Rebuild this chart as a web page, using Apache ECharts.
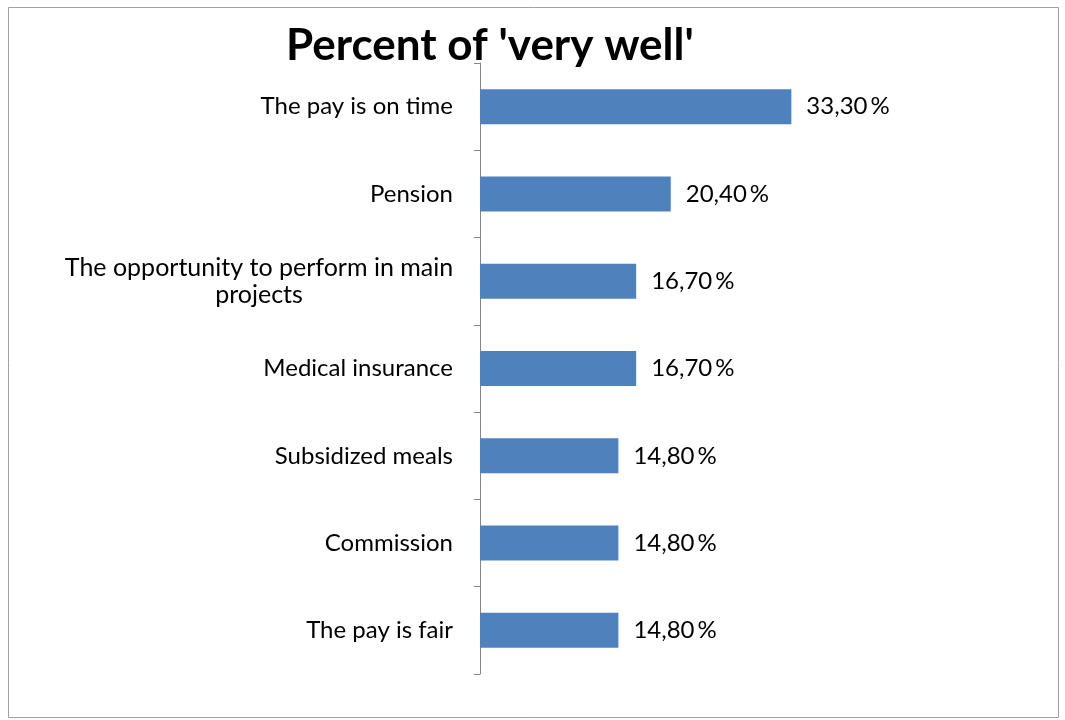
<!DOCTYPE html>
<html>
<head>
<meta charset="utf-8">
<script src="https://cdn.jsdelivr.net/npm/echarts@6/dist/echarts.min.js"></script>
<style>
  html, body { margin: 0; padding: 0; background: #fff; }
  #chart { width: 1065px; height: 720px; }
</style>
</head>
<body>
<div id="chart"></div>
<script>
// Items, listed top to bottom
const categories = [
  'The pay is on time',
  'Pension',
  'The opportunity to perform in main\nprojects',
  'Medical insurance',
  'Subsidized meals',
  'Commission',
  'The pay is fair'
];
// Share of answers "very well", in percent
const percentVeryWell = [33.3, 20.4, 16.7, 16.7, 14.8, 14.8, 14.8];

const FONT = 'Lato, "Open Sans", sans-serif';
const chart = echarts.init(document.getElementById('chart'), null, { renderer: 'canvas' });

// Wrapped category names get each line centred inside a fixed-width box
function categoryLabel(name) {
  if (name.indexOf('\n') < 0) return name;
  return name.split('\n').map(l => '{c|' + l + '}').join('\n');
}

chart.setOption({
  animation: false,
  backgroundColor: '#ffffff',
  title: {
    text: "Percent of 'very well'",
    left: 281,
    top: 19,
    textStyle: { fontFamily: FONT, fontSize: 44, fontWeight: 'bold', color: '#000' }
  },
  graphic: [{
    type: 'rect',
    shape: { x: 8.5, y: 7.5, width: 1050, height: 710 },
    style: { fill: 'none', stroke: '#a0a0a0', lineWidth: 1 },
    silent: true
  }],
  grid: { left: 480, top: 63, bottom: 46, right: 24, containLabel: false },
  xAxis: {
    type: 'value', min: 0, max: 60, show: false
  },
  yAxis: {
    type: 'category',
    inverse: true,
    data: categories,
    axisLine: { show: true, lineStyle: { color: '#868686', width: 1 } },
    axisTick: { show: true, length: 6, lineStyle: { color: '#868686' } },
    axisLabel: {
      margin: 27,
      fontFamily: FONT,
      fontSize: 24,
      color: '#000',
      lineHeight: 27,
      formatter: categoryLabel,
      rich: {
        c: { fontFamily: FONT, fontSize: 25, color: '#000', width: 388, align: 'center', lineHeight: 27 }
      }
    },
    splitLine: { show: false }
  },
  series: [{
    type: 'bar',
    data: percentVeryWell,
    barWidth: 35,
    itemStyle: { color: '#4F81BD' },
    label: {
      show: true,
      position: 'right',
      distance: 15,
      fontFamily: FONT,
      fontSize: 24,
      color: '#000',
      formatter: p => p.value.toFixed(2).replace('.', ',') + '\u2009%'
    }
  }]
});
</script>
</body>
</html>
